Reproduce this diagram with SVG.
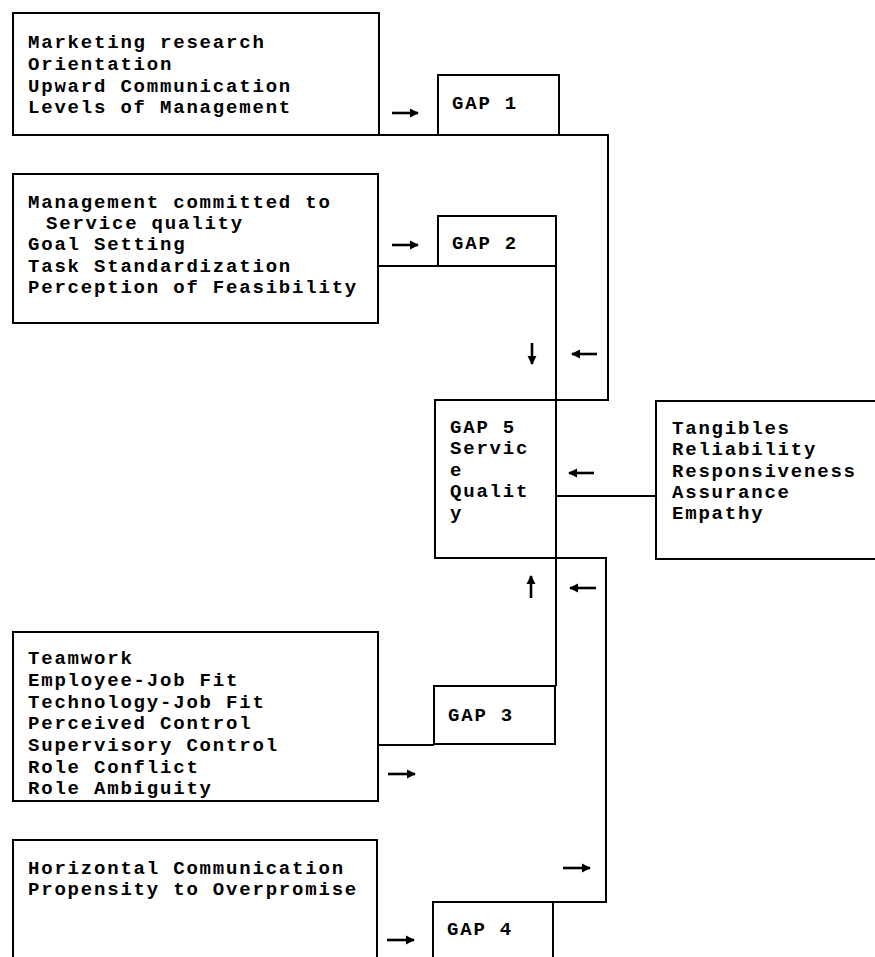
<svg xmlns="http://www.w3.org/2000/svg" width="875" height="957" viewBox="0 0 875 957">
  <style>
    .box { fill: none; stroke: #000; stroke-width: 2; }
    .wire { fill: none; stroke: #000; stroke-width: 2; }
    .arr { fill: none; stroke: #000; stroke-width: 2.6; marker-end: url(#head); }
    text { font-family: "Liberation Mono", "Courier New", monospace; font-weight: bold; font-size: 19px; letter-spacing: 1.8px; fill: #000; }
  </style>
  <defs>
    <marker id="head" viewBox="0 0 10 10" refX="9" refY="5" markerWidth="3.5" markerHeight="3.5" orient="auto" markerUnits="strokeWidth">
      <path d="M0,0 L10,5 L0,10 z" fill="#000"/>
    </marker>
  </defs>
  <rect width="875" height="957" fill="#fff"/>

  <!-- connecting lines -->
  <g id="connectors">
    <path class="wire" d="M379,135 H608 V400 H556"/>
    <path class="wire" d="M378,266 H556 V400"/>
    <path class="wire" d="M556,496 H656"/>
    <path class="wire" d="M556,558 H606 V902 H433"/>
    <path class="wire" d="M556,558 V686"/>
    <path class="wire" d="M377,745 H434"/>
    <!-- flow arrows -->
    <path class="arr" d="M392,113 H418"/>
    <path class="arr" d="M392,245 H418"/>
    <path class="arr" d="M532,343 V364"/>
    <path class="arr" d="M597,354 H572"/>
    <path class="arr" d="M594,473 H569"/>
    <path class="arr" d="M531,598 V576"/>
    <path class="arr" d="M596,588 H570"/>
    <path class="arr" d="M388,774 H415"/>
    <path class="arr" d="M563,868 H590"/>
    <path class="arr" d="M387,940 H414"/>
  </g>

  <g id="gap1-factors">
    <rect class="box" x="13" y="13" width="366" height="122"/>
    <text x="28" y="48">Marketing research</text>
    <text x="28" y="70">Orientation</text>
    <text x="28" y="92">Upward Communication</text>
    <text x="28" y="113">Levels of Management</text>
  </g>

  <g id="gap1">
    <rect class="box" x="438" y="75" width="121" height="60"/>
    <text x="452" y="109">GAP 1</text>
  </g>

  <g id="gap2-factors">
    <rect class="box" x="13" y="174" width="365" height="149"/>
    <text x="28" y="208">Management committed to</text>
    <text x="46" y="229">Service quality</text>
    <text x="28" y="250">Goal Setting</text>
    <text x="28" y="272">Task Standardization</text>
    <text x="28" y="293">Perception of Feasibility</text>
  </g>

  <g id="gap2">
    <rect class="box" x="438" y="216" width="118" height="50"/>
    <text x="452" y="249">GAP 2</text>
  </g>

  <g id="gap5">
    <rect class="box" x="435" y="400" width="121" height="158"/>
    <text x="450" y="433">GAP 5</text>
    <text x="450" y="454">Servic</text>
    <text x="450" y="476">e</text>
    <text x="450" y="497">Qualit</text>
    <text x="450" y="519">y</text>
  </g>

  <g id="service-dimensions">
    <rect class="box" x="656" y="401" width="240" height="158"/>
    <text x="672" y="434">Tangibles</text>
    <text x="672" y="455">Reliability</text>
    <text x="672" y="477">Responsiveness</text>
    <text x="672" y="498">Assurance</text>
    <text x="672" y="519">Empathy</text>
  </g>

  <g id="gap3-factors">
    <rect class="box" x="13" y="632" width="365" height="169"/>
    <text x="28" y="664">Teamwork</text>
    <text x="28" y="686">Employee-Job Fit</text>
    <text x="28" y="708">Technology-Job Fit</text>
    <text x="28" y="729">Perceived Control</text>
    <text x="28" y="751">Supervisory Control</text>
    <text x="28" y="773">Role Conflict</text>
    <text x="28" y="794">Role Ambiguity</text>
  </g>

  <g id="gap3">
    <rect class="box" x="434" y="686" width="121" height="58"/>
    <text x="448" y="721">GAP 3</text>
  </g>

  <g id="gap4-factors">
    <rect class="box" x="13" y="840" width="364" height="140"/>
    <text x="28" y="874">Horizontal Communication</text>
    <text x="28" y="895">Propensity to Overpromise</text>
  </g>

  <g id="gap4">
    <rect class="box" x="433" y="902" width="120" height="80"/>
    <text x="447" y="935">GAP 4</text>
  </g>
</svg>
